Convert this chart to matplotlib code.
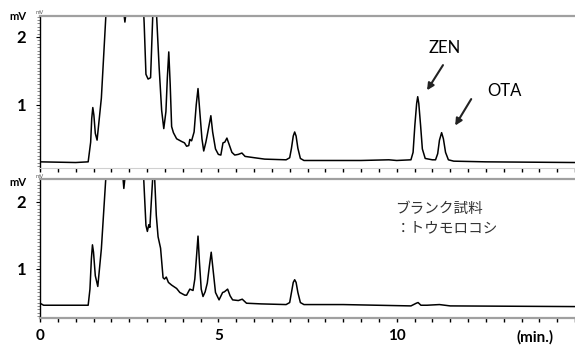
import matplotlib.pyplot as plt
from matplotlib.ticker import MultipleLocator

plt.rcParams['font.family'] = ['Lato', 'DejaVu Sans']

# retention time (min) and signal (mV)
top_t = [0.0, 1.0, 1.35, 1.42, 1.45, 1.48, 1.51, 1.55, 1.60, 1.72, 1.85, 2.0, 2.25, 2.34,
         2.38, 2.42, 2.6, 2.85, 2.92, 2.97, 3.03, 3.10, 3.14, 3.18, 3.22, 3.27, 3.34, 3.41,
         3.47, 3.53, 3.57, 3.61, 3.65, 3.69, 3.74, 3.83, 3.97, 4.05, 4.11, 4.17, 4.20, 4.25,
         4.32, 4.38, 4.43, 4.48, 4.54, 4.59, 4.65, 4.68, 4.74, 4.79, 4.84, 4.92, 5.00, 5.07,
         5.13, 5.18, 5.24, 5.30, 5.38, 5.46, 5.56, 5.66, 5.75, 6.02, 6.3, 6.9, 7.0, 7.05,
         7.10, 7.14, 7.18, 7.23, 7.30, 7.4, 8.0, 9.0, 9.78, 10.0, 10.40, 10.46, 10.51, 10.56,
         10.59, 10.62, 10.67, 10.72, 10.80, 11.0, 11.09, 11.15, 11.20, 11.26, 11.31, 11.37,
         11.45, 11.6, 12.5, 15.0]
top_v = [0.16, 0.15, 0.16, 0.45, 0.80, 0.96, 0.85, 0.58, 0.48, 1.10, 2.35, 3.5, 3.0, 2.4,
         2.22, 2.4, 4.0, 3.0, 2.2, 1.45, 1.38, 1.40, 2.0, 2.6, 2.8, 2.3, 1.55, 0.92,
         0.65, 0.90, 1.40, 1.78, 1.30, 0.68, 0.59, 0.50, 0.46, 0.44, 0.39, 0.40, 0.49, 0.47,
         0.60, 1.00, 1.24, 0.90, 0.50, 0.32, 0.45, 0.53, 0.70, 0.84, 0.60, 0.35, 0.27, 0.26,
         0.44, 0.45, 0.51, 0.42, 0.30, 0.26, 0.27, 0.29, 0.24, 0.22, 0.20, 0.19, 0.22, 0.36,
         0.54, 0.60, 0.54, 0.36, 0.21, 0.18, 0.18, 0.18, 0.19, 0.18, 0.19, 0.30, 0.70, 1.02,
         1.12, 1.02, 0.70, 0.35, 0.21, 0.19, 0.19, 0.28, 0.48, 0.59, 0.50, 0.30,
         0.19, 0.17, 0.16, 0.15]

bot_t = [0.0, 0.1, 1.35, 1.40, 1.44, 1.47, 1.50, 1.55, 1.62, 1.72, 1.85, 2.0, 2.25, 2.32,
         2.35, 2.39, 2.6, 2.85, 2.92, 2.97, 3.01, 3.05, 3.08, 3.12, 3.17, 3.21, 3.26, 3.31,
         3.38, 3.45, 3.49, 3.54, 3.60, 3.69, 3.83, 3.92, 4.06, 4.11, 4.20, 4.29, 4.34, 4.39,
         4.43, 4.47, 4.52, 4.57, 4.63, 4.69, 4.75, 4.80, 4.85, 4.92, 5.02, 5.12, 5.17, 5.26,
         5.33, 5.40, 5.56, 5.67, 5.79, 6.2, 6.9, 7.0, 7.05, 7.10, 7.14, 7.18, 7.23, 7.30, 7.4,
         8.5, 10.4, 10.55, 10.60, 10.68, 10.85, 11.2, 11.5, 15.0]
bot_v = [0.49, 0.46, 0.46, 0.70, 1.15, 1.36, 1.25, 0.90, 0.74, 1.30, 2.4, 3.5, 3.0, 2.4,
         2.20, 2.4, 4.0, 3.0, 2.2, 1.65, 1.56, 1.66, 1.62, 2.0, 2.45, 2.4, 1.8, 1.48,
         1.31, 0.87, 0.85, 0.88, 0.80, 0.76, 0.71, 0.65, 0.61, 0.61, 0.70, 0.68, 0.85, 1.20,
         1.49, 1.10, 0.70, 0.59, 0.66, 0.79, 1.05, 1.25, 1.00, 0.65, 0.54, 0.65, 0.66, 0.70,
         0.60, 0.54, 0.53, 0.55, 0.49, 0.48, 0.47, 0.50, 0.65, 0.80, 0.84, 0.80, 0.65, 0.50, 0.47,
         0.47, 0.45, 0.49, 0.50, 0.46, 0.46, 0.47, 0.45, 0.44]

fig = plt.figure(figsize=(5.75, 3.47), dpi=100)
ax1 = fig.add_axes([0.0696, 0.516, 0.9304, 0.438])
ax2 = fig.add_axes([0.0696, 0.0836, 0.9304, 0.4004])

for ax, t, v, ylim in [(ax1, top_t, top_v, (0.07, 2.31)), (ax2, bot_t, bot_v, (0.27, 2.34))]:
    ax.plot(t, v, color='black', lw=1.1)
    ax.set_xlim(0, 15)
    ax.set_ylim(*ylim)
    ax.set_yticks([1, 2])
    ax.set_yticklabels(['1', '2'], fontsize=12, fontweight='bold')
    ax.yaxis.set_minor_locator(MultipleLocator(0.05))
    ax.tick_params(axis='y', which='major', length=3, pad=7)
    ax.tick_params(axis='y', which='minor', length=2, color='#777777')
    ax.xaxis.set_minor_locator(MultipleLocator(0.5))
    ax.tick_params(axis='x', which='both', length=3, width=1)
    ax.spines['right'].set_visible(False)
    ax.spines['top'].set_color('#a0a0a0')
    ax.spines['top'].set_linewidth(1.6)
    ax.spines['left'].set_linewidth(1.0)

ax1.set_xticks([0, 5, 10])
ax1.set_xticklabels([])
ax1.spines['bottom'].set_color('#d0d0d0')
ax2.set_xticks([0, 5, 10])
ax2.set_xticklabels(['0', '5', '10'], fontsize=11, fontweight='bold')
ax2.tick_params(axis='x', which='major', pad=5)
ax2.spines['bottom'].set_color('#a0a0a0')
ax2.spines['bottom'].set_linewidth(1.6)

# axis unit labels
fig.text(18 / 575, 1 - 17 / 347, 'mV', fontsize=8, fontweight='bold', ha='center', va='center')
fig.text(18 / 575, 1 - 183 / 347, 'mV', fontsize=8, fontweight='bold', ha='center', va='center')
fig.text(40 / 575, 1 - 13 / 347, 'mV', fontsize=4, color='#555555', ha='center', va='center')
fig.text(40 / 575, 1 - 176 / 347, 'mV', fontsize=4, color='#555555', ha='center', va='center')
fig.text(535 / 575, 1 - 337 / 347, '(min.)', fontsize=11, fontweight='bold', ha='center', va='center')

# peak labels
ax1.annotate('', xy=(10.81, 1.18), xytext=(11.34, 1.62),
             arrowprops=dict(arrowstyle='-|>', color='#222222', lw=1.5, mutation_scale=10))
ax1.text(11.34, 1.84, 'ZEN', fontsize=12, ha='center', va='center')
ax1.annotate('', xy=(11.60, 0.66), xytext=(12.13, 1.12),
             arrowprops=dict(arrowstyle='-|>', color='#222222', lw=1.5, mutation_scale=10))
ax1.text(13.02, 1.21, 'OTA', fontsize=12, ha='center', va='center')

ax2.text(9.97, 1.90, 'ブランク試料', fontsize=10.5, color='#333333', va='center',
         family=['Noto Sans CJK JP', 'DejaVu Sans'])
ax2.text(9.97, 1.61, '：トウモロコシ', fontsize=10.5, color='#333333', va='center',
         family=['Noto Sans CJK JP', 'DejaVu Sans'])

fig.savefig('out.png', dpi=100)
